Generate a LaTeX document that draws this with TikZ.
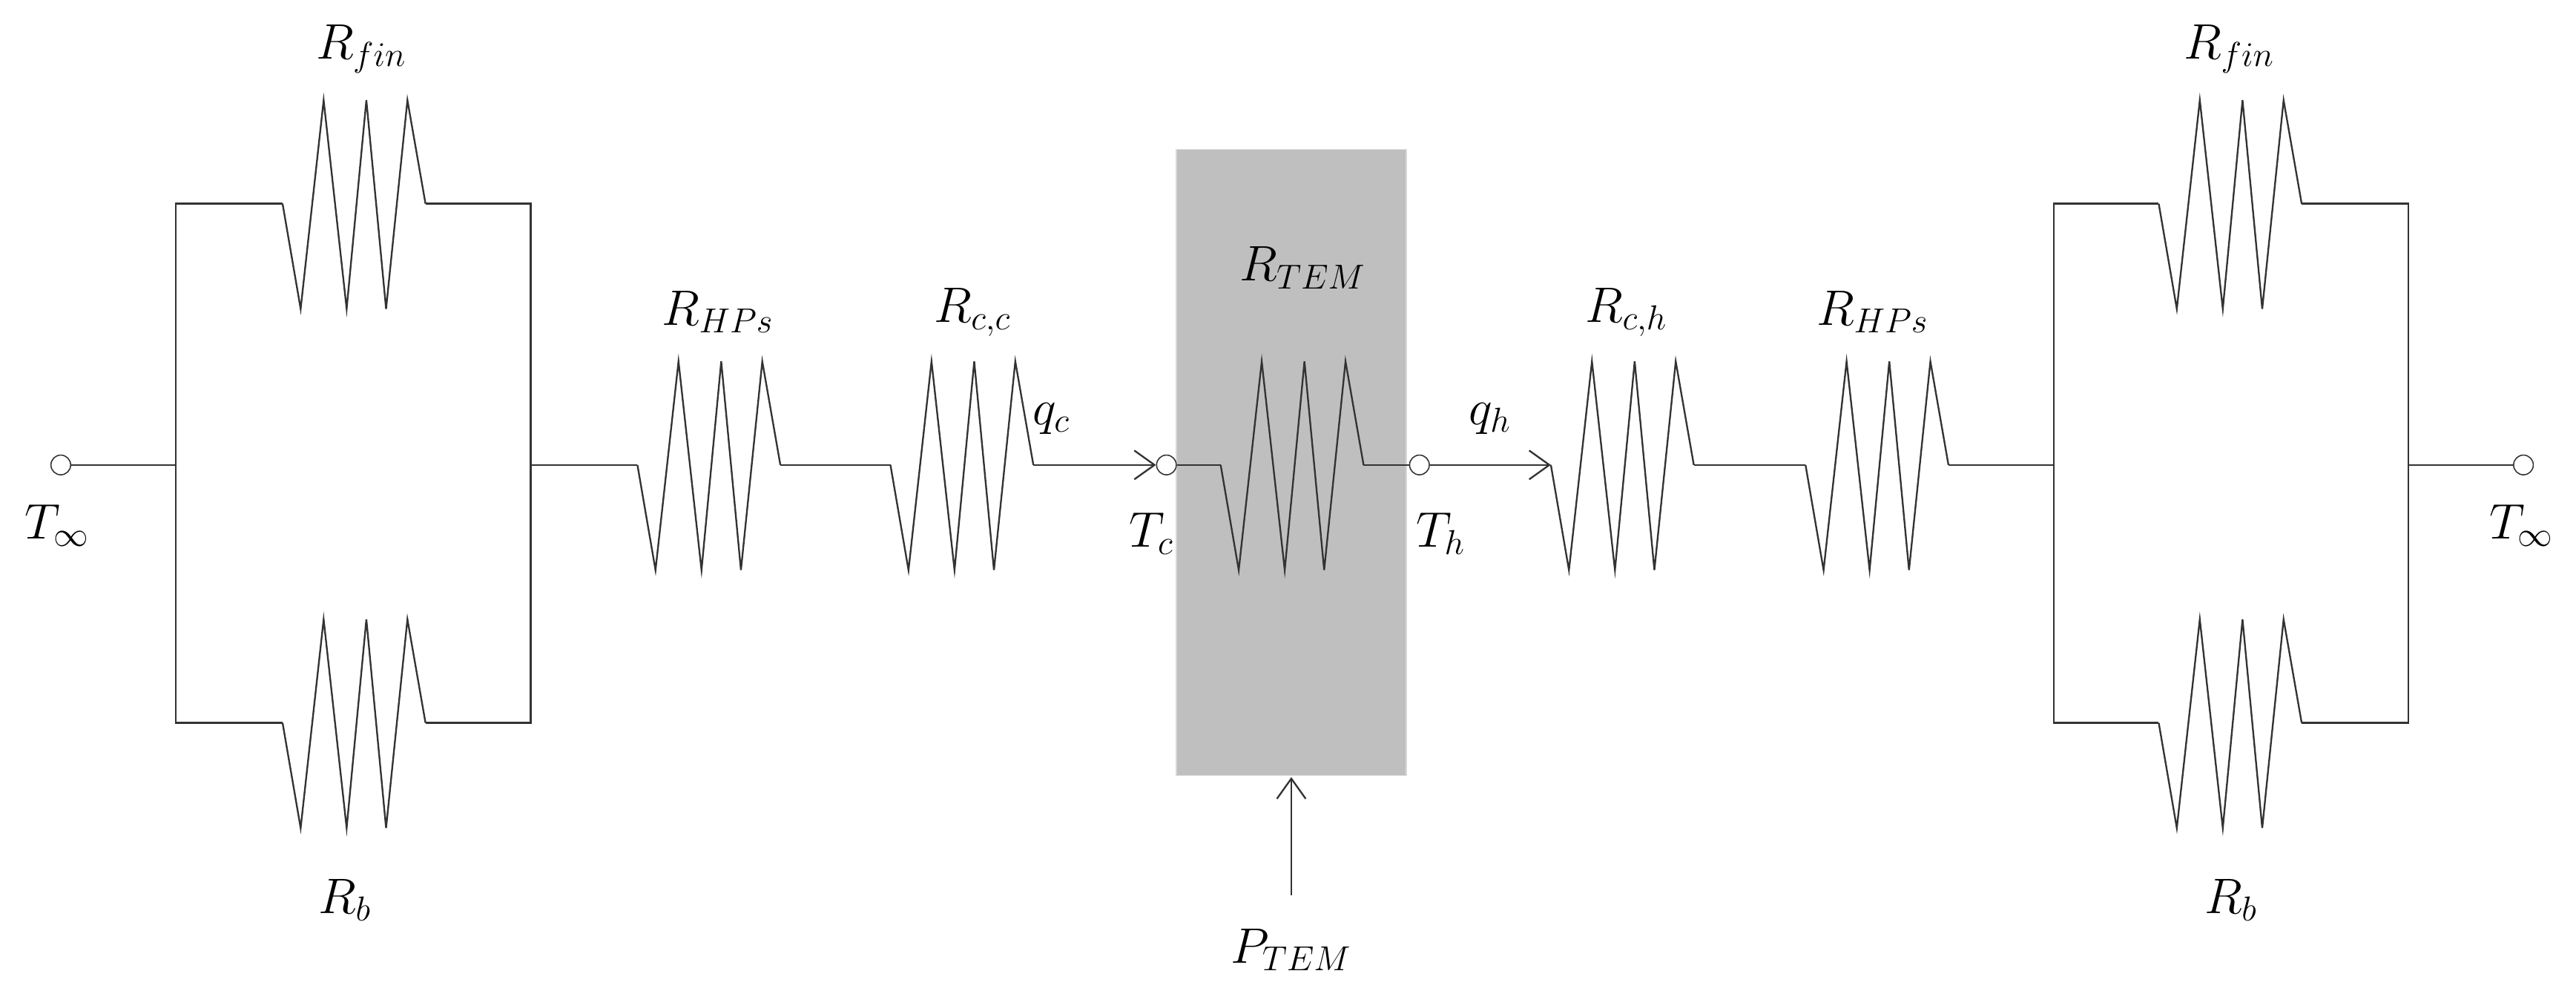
\documentclass[tikz,border=0pt]{standalone}
\usepackage{amsmath}
\usetikzlibrary{arrows.meta}

% zigzag resistor between #2-a and #2-b, left end at (#3,#4)
\newcommand{\resistor}[3]{%
  \coordinate (#1-a) at (#2,#3);
  \coordinate (#1-b) at (#2+87,#3);
  \draw[wire] (#1-a) -- ++(11,64) -- ++(14,-127) -- ++(14,127) -- ++(12,-127)
    -- ++(12,127) -- ++(13,-127) -- (#1-b);
}

\tikzset{
  wire/.style={line width=0.6pt, black!80},
  term/.style={draw, black!80, circle, fill=white, inner sep=0pt, minimum size=0.24cm},
  lbl/.style={font=\LARGE},
  flow/.style={wire, -{Straight Barb[length=7pt,width=10pt]}}
}

\begin{document}
\begin{tikzpicture}[x=0.02cm, y=-0.02cm]
  \useasboundingbox (0,0) rectangle (1568,601);
  % module
  \fill[gray!50, draw=gray!30] (716,91) rectangle (856,472);

  % left side
  \node[term] (tinfL) at (37,283) {};
  \node[lbl] at (35,320) {$T_\infty$};
  \resistor{finL}{172}{124}
  \resistor{bL}{172}{440}
  \node[lbl] at (220,30) {$R_{fin}$};
  \node[lbl] at (210,548) {$R_b$};
  \coordinate (boxLw) at (107,283);
  \coordinate (boxLe) at (323,283);
  \draw[wire] (tinfL) -- (boxLw);
  \draw[wire] (finL-a) -| (boxLw) |- (bL-a);
  \draw[wire] (finL-b) -| (boxLe) |- (bL-b);

  \resistor{hpsL}{388}{283}
  \resistor{cc}{542}{283}
  \node[lbl] at (437,190) {$R_{HPs}$};
  \node[lbl] at (592,190) {$R_{c,c}$};
  \draw[wire] (boxLe) -- (hpsL-a);
  \draw[wire] (hpsL-b) -- (cc-a);

  % TEM
  \node[term] (tc) at (710,283) {};
  \node[term] (th) at (864,283) {};
  \node[lbl] at (701,325) {$T_c$};
  \node[lbl] at (877,325) {$T_h$};
  \draw[flow] (cc-b) -- (tc);
  \node[lbl] at (640,255) {$q_c$};
  \resistor{tem}{743}{283}
  \node[lbl] at (793,163) {$R_{TEM}$};
  \draw[wire] (tc) -- (tem-a);
  \draw[wire] (tem-b) -- (th);
  \coordinate (pin) at (786,545);
  \coordinate (pout) at (786,473);
  \draw[flow] (pin) -- (pout);
  \node[lbl] at (786,578) {$P_{TEM}$};

  % right side
  \resistor{ch}{944}{283}
  \resistor{hpsR}{1099}{283}
  \node[lbl] at (990,190) {$R_{c,h}$};
  \node[lbl] at (1140,190) {$R_{HPs}$};
  \draw[flow] (th) -- (ch-a);
  \node[lbl] at (907,255) {$q_h$};
  \draw[wire] (ch-b) -- (hpsR-a);

  \coordinate (boxRw) at (1250,283);
  \coordinate (boxRe) at (1466,283);
  \resistor{finR}{1314}{124}
  \resistor{bR}{1314}{440}
  \node[lbl] at (1357,30) {$R_{fin}$};
  \node[lbl] at (1358,548) {$R_b$};
  \draw[wire] (hpsR-b) -- (boxRw);
  \draw[wire] (finR-a) -| (boxRw) |- (bR-a);
  \draw[wire] (finR-b) -| (boxRe) |- (bR-b);
  \node[term] (tinfR) at (1536,283) {};
  \node[lbl] at (1535,320) {$T_\infty$};
  \draw[wire] (boxRe) -- (tinfR);
\end{tikzpicture}
\end{document}
